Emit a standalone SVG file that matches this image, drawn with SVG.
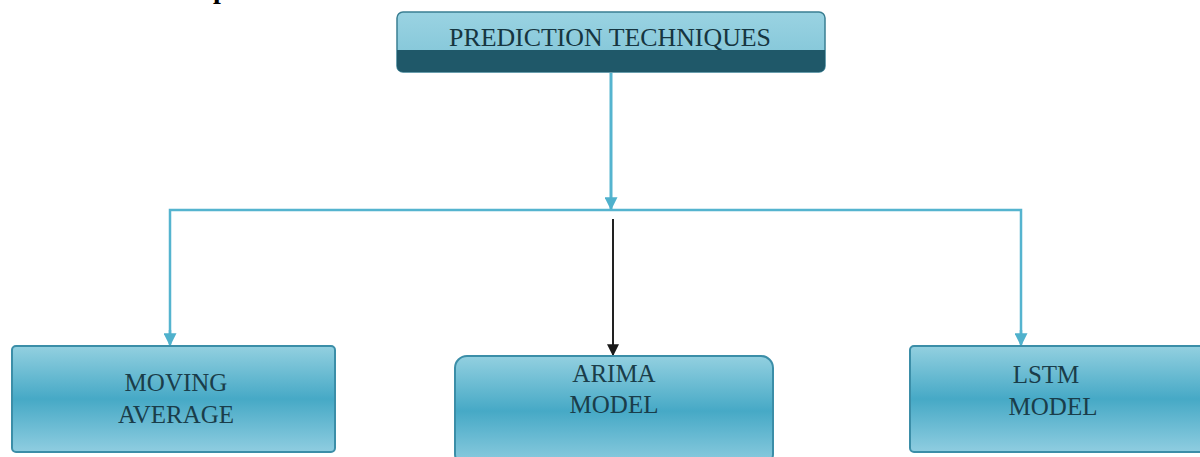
<svg xmlns="http://www.w3.org/2000/svg" width="1200" height="457" viewBox="0 0 1200 457">
<defs>
<linearGradient id="boxg" x1="0" y1="0" x2="0" y2="1">
<stop offset="0" stop-color="#93d0e0"/>
<stop offset="0.5" stop-color="#46a9c6"/>
<stop offset="1" stop-color="#8fcde0"/>
</linearGradient>
<linearGradient id="topg" x1="0" y1="0" x2="0" y2="1">
<stop offset="0" stop-color="#9ad3e2"/>
<stop offset="1" stop-color="#7ec3d6"/>
</linearGradient>
<marker id="ab" viewBox="0 0 10 10" refX="9" refY="5" markerWidth="14" markerHeight="13" orient="auto" markerUnits="userSpaceOnUse">
<path d="M0,0 L10,5 L0,10 z" fill="#4fb1cc"/>
</marker>
<marker id="ak" viewBox="0 0 10 10" refX="9" refY="5" markerWidth="13" markerHeight="12" orient="auto" markerUnits="userSpaceOnUse">
<path d="M0,0 L10,5 L0,10 z" fill="#1a1a1a"/>
</marker>
<style>
.box{fill:url(#boxg);stroke:#3b8ea8;stroke-width:2}
.t{font-family:"Liberation Serif","Times New Roman",serif;font-size:25px;fill:#1a3d4a;text-anchor:middle}
.c{fill:none;stroke:#55b4cf;stroke-width:2.5}
</style>
</defs>
<rect width="1200" height="457" fill="#ffffff"/>
<text x="213" y="-2" font-family="Liberation Serif, serif" font-weight="bold" font-size="28" fill="#000">p</text>
<g id="connectors">
<path class="c" d="M611,73 V209" marker-end="url(#ab)" style="stroke-width:3"/>
<path class="c" d="M170,344 V210 H1021 V344"/>
<path d="M170,330 V345" stroke="#55b4cf" stroke-width="2.5" marker-end="url(#ab)"/>
<path d="M1021,330 V345" stroke="#55b4cf" stroke-width="2.5" marker-end="url(#ab)"/>
<path d="M613,219 V355" stroke="#222" stroke-width="2" marker-end="url(#ak)"/>
</g>
<g id="top">
<rect x="397" y="12" width="428" height="60" rx="6" fill="url(#topg)" stroke="#3a7f92" stroke-width="1.5"/>
<path d="M397,50 H825 V66 a6,6 0 0 1 -6,6 H403 a6,6 0 0 1 -6,-6 z" fill="#1f5869"/>
<text class="t" x="610" y="46" textLength="322" lengthAdjust="spacingAndGlyphs" style="fill:#163540">PREDICTION TECHNIQUES</text>
</g>
<g id="moving">
<rect class="box" x="12" y="346" width="323" height="106" rx="4"/>
<text class="t" x="176" y="391">MOVING</text>
<text class="t" x="176" y="423">AVERAGE</text>
</g>
<g id="arima">
<rect class="box" x="455" y="356" width="318" height="110" rx="12"/>
<text class="t" x="614" y="382">ARIMA</text>
<text class="t" x="614" y="413">MODEL</text>
</g>
<g id="lstm">
<rect class="box" x="910" y="346" width="300" height="106" rx="4"/>
<text class="t" x="1046" y="383">LSTM</text>
<text class="t" x="1053" y="415">MODEL</text>
</g>
</svg>
